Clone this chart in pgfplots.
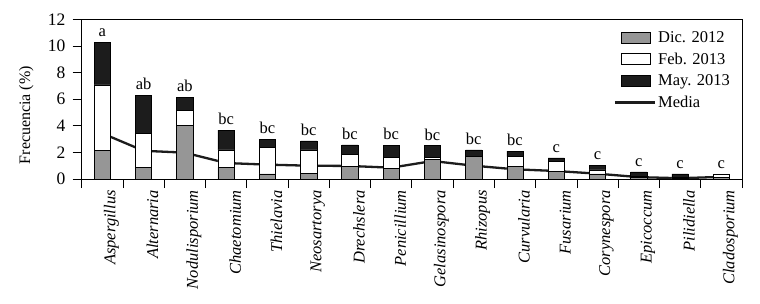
\documentclass[border=0pt]{standalone}
\usepackage{fontspec}
\setmainfont{Liberation Serif}
\usepackage{pgfplots}
\usepackage{pgfplotstable}
\pgfplotsset{compat=1.18}
\definecolor{bargray}{RGB}{150,150,150}
\definecolor{barblack}{RGB}{28,28,28}
\pgfplotsset{
  barlegend/.style={legend image code/.code={\draw[##1] (0pt,-5.5pt) rectangle (29pt,5.5pt);}},
  linelegend/.style={legend image code/.code={\draw[##1] (-6pt,0pt) -- (34pt,0pt);}},
}
\pgfplotstableread{
x dic feb may media tot lab
0  2.15 4.92 3.21 3.43 10.28 a
1  0.88 2.53 2.88 2.12 6.29 ab
2  4.03 1.11 1.00 1.98 6.14 ab
3  0.88 1.30 1.50 1.20 3.68 bc
4  0.38 2.00 0.62 1.08 3.00 bc
5  0.45 1.73 0.68 1.00 2.86 bc
6  0.95 0.88 0.73 0.98 2.56 bc
7  0.82 0.80 0.93 0.85 2.55 bc
8  1.50 0.15 0.85 1.35 2.50 bc
9  1.68 0.00 0.50 1.00 2.18 bc
10 0.93 0.75 0.42 0.73 2.10 bc
11 0.60 0.70 0.28 0.60 1.58 c
12 0.38 0.30 0.37 0.40 1.05 c
13 0.10 0.10 0.33 0.14 0.53 c
14 0.05 0.05 0.28 0.06 0.38 c
15 0.10 0.28 0.00 0.16 0.38 c
}\data
\begin{document}
\begin{tikzpicture}[font=\fontsize{16.5}{19}\selectfont]
\begin{axis}[
  name=ax,
  scale only axis,
  width=660.3pt, height=159.7pt,
  ybar stacked,
  bar width=16.3pt,
  xmin=-0.5, xmax=15.5,
  ymin=0, ymax=12,
  ytick={0,2,...,12},
  xtick={0,...,15},
  xticklabels={Aspergillus,Alternaria,Nodulisporium,Chaetomium,Thielavia,Neosartorya,Drechslera,Penicillium,Gelasinospora,Rhizopus,Curvularia,Fusarium,Corynespora,Epicoccum,Pilidiella,Cladosporium},
  xticklabel style={rotate=90, anchor=east, font=\fontsize{16.5}{19}\selectfont\itshape, inner sep=1pt, xshift=-1pt, yshift=-9pt},
  major x tick style={draw=none},
  minor xtick={-0.5,0.5,...,15.5},
  minor tick length=9pt,
  minor x tick style={black},
  major tick length=9pt,
  tick align=outside,
  tick style={black, line width=0.8pt},
  xtick pos=bottom, ytick pos=left,
  axis line style={line width=0.8pt},
  /pgf/number format/assume math mode=true,
  yticklabel style={inner sep=1pt, xshift=-6pt, font=\fontsize{17.5}{20}\selectfont},
  ylabel={Frecuencia (\%)},
  ylabel style={at={(ticklabel cs:0.4)}, anchor=south, yshift=10pt, font=\fontsize{16}{19}\selectfont},
  legend style={draw=none, fill=none, at={(0.985,0.94)}, anchor=north east,
    row sep=5pt, inner sep=0pt, cells={anchor=west},
    font=\fontsize{16.5}{19}\selectfont},
  legend cell align=left,
]
\addplot[draw=black, line width=0.6pt, fill=bargray, barlegend]
  table[x=x, y=dic] {\data};
\addlegendentry{Dic. 2012}
\addplot[draw=black, line width=0.6pt, fill=white, barlegend]
  table[x=x, y=feb] {\data};
\addlegendentry{Feb. 2013}
\addplot[draw=black, line width=0.6pt, fill=barblack, barlegend]
  table[x=x, y=may] {\data};
\addlegendentry{May. 2013}
\addplot[stack plots=false, sharp plot, mark=none, draw=barblack, line width=2.3pt, linelegend]
  table[x=x, y=media] {\data};
\addlegendentry{Media}
\end{axis}
\begin{axis}[
  scale only axis,
  width=660.3pt, height=159.7pt,
  xmin=-0.5, xmax=15.5,
  ymin=0, ymax=12,
  hide axis,
  clip=false,
]
\addplot[only marks, mark=none,
  nodes near coords, point meta=explicit symbolic,
  nodes near coords style={anchor=south, inner sep=0pt, yshift=5pt, font=\fontsize{16.5}{19}\selectfont}]
  table[x=x, y=tot, meta=lab] {\data};
\end{axis}
\pgfresetboundingbox
\path (ax.south west) ++(-81.7pt,-124pt) coordinate (bl);
\path (ax.north east) ++(18pt,19.3pt) coordinate (tr);
\path[use as bounding box] (bl) rectangle (tr);
\end{tikzpicture}
\end{document}
